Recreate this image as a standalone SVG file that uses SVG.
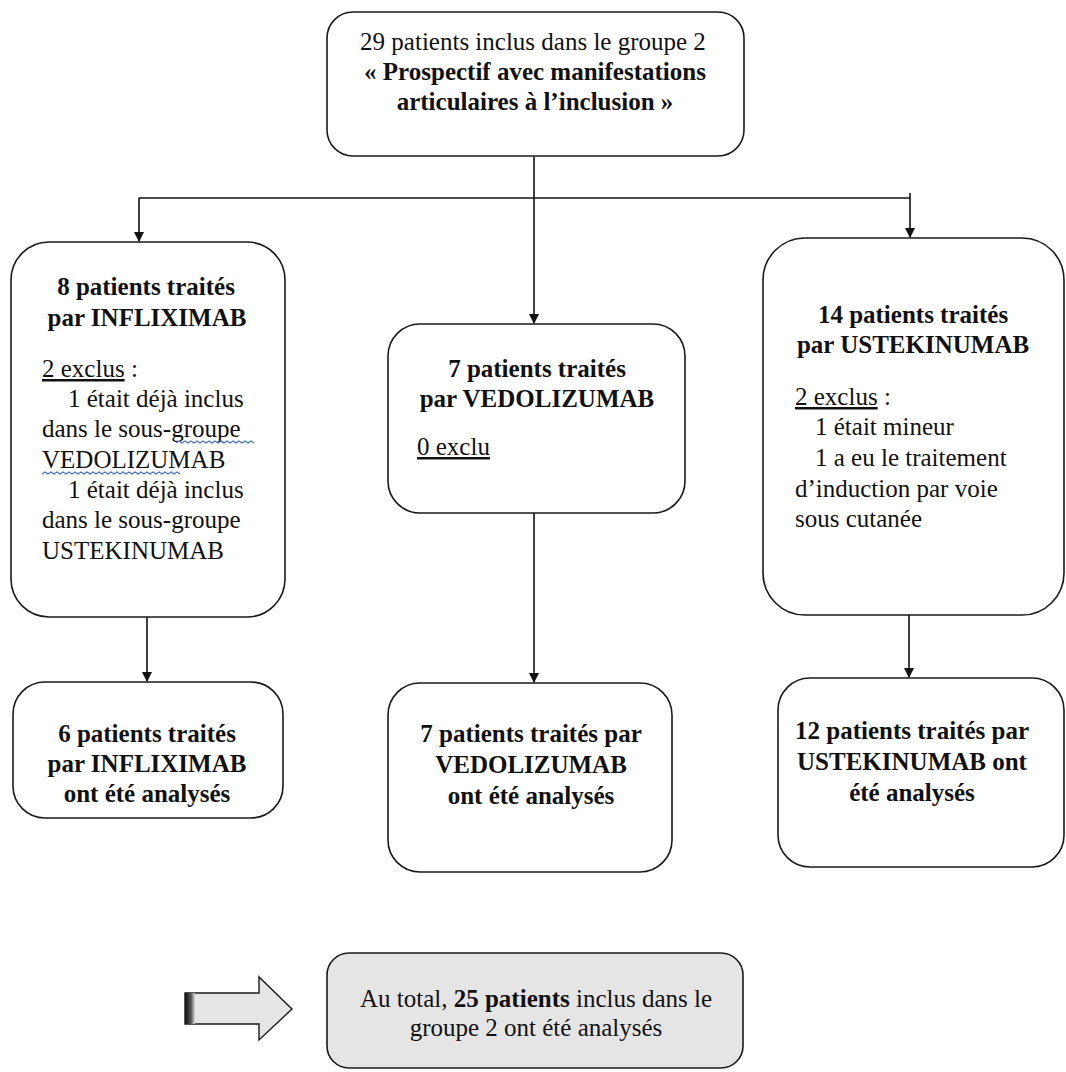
<svg xmlns="http://www.w3.org/2000/svg" width="1066" height="1072" viewBox="0 0 1066 1072">
<style>
.box{fill:#fff;stroke:#1a1a1a;stroke-width:1.6}
.gbox{fill:#e6e5e6;stroke:#1a1a1a;stroke-width:1.6}
.t{font-size:25px;fill:#111}
.c{text-anchor:middle}
.b{font-weight:bold}
.u{text-decoration:underline}
.con{fill:none;stroke:#111;stroke-width:1.6}
.sq{fill:none;stroke:#4a72c8;stroke-width:1.2}
</style>
<defs>
<marker id="ah" markerWidth="10" markerHeight="10" refX="9" refY="5" orient="auto" markerUnits="userSpaceOnUse">
<path d="M0,0 L10,5 L0,10 z" fill="#111"/>
</marker>
<linearGradient id="dk" x1="0" y1="0" x2="1" y2="0">
<stop offset="0" stop-color="#111"/>
<stop offset="0.6" stop-color="#555"/>
<stop offset="1" stop-color="#d8d8d8"/>
</linearGradient>
</defs>

<g id="connectors">
<line class="con" x1="534" y1="157" x2="534" y2="323" marker-end="url(#ah)"/>
<line class="con" x1="139" y1="198" x2="910" y2="198"/>
<line class="con" x1="910" y1="193" x2="910" y2="198"/>
<line class="con" x1="139" y1="198" x2="139" y2="241" marker-end="url(#ah)"/>
<line class="con" x1="910" y1="198" x2="910" y2="237" marker-end="url(#ah)"/>
<line class="con" x1="147" y1="617" x2="147" y2="681" marker-end="url(#ah)"/>
<line class="con" x1="534" y1="513" x2="534" y2="682" marker-end="url(#ah)"/>
<line class="con" x1="909" y1="615" x2="909" y2="677" marker-end="url(#ah)"/>
</g>

<g font-family="'Liberation Serif', Tinos, 'Times New Roman', 'DejaVu Serif', serif">
<g id="n_top">
<rect class="box" x="327" y="12" width="417" height="144" rx="26"/>
<text class="t c" x="533" y="50">29 patients inclus dans le groupe 2</text>
<text class="t c b" x="535" y="80">« Prospectif avec manifestations</text>
<text class="t c b" x="535" y="110">articulaires à l’inclusion »</text>
</g>

<g id="n_inflix">
<rect class="box" x="11" y="242" width="274" height="375" rx="38"/>
<text class="t c b" x="146" y="295">8 patients traités</text>
<text class="t c b" x="147" y="326">par INFLIXIMAB</text>
<text class="t" x="42" y="377"><tspan class="u">2 exclus</tspan> :</text>
<text class="t" x="68" y="407">1 était déjà inclus</text>
<text class="t" x="42" y="437">dans le sous-groupe</text>
<text class="t" x="42" y="468">VEDOLIZUMAB</text>
<text class="t" x="68" y="498">1 était déjà inclus</text>
<text class="t" x="42" y="528">dans le sous-groupe</text>
<text class="t" x="42" y="559">USTEKINUMAB</text>
<path class="sq" d="M176,443 l3,-2 l3,2 l3,-2 l3,2 l3,-2 l3,2 l3,-2 l3,2 l3,-2 l3,2 l3,-2 l3,2 l3,-2 l3,2 l3,-2 l3,2 l3,-2 l3,2 l3,-2 l3,2 l3,-2 l3,2 l3,-2 l3,2 l3,-2 l3,2"/>
<path class="sq" d="M42,474 l3,-2 l3,2 l3,-2 l3,2 l3,-2 l3,2 l3,-2 l3,2 l3,-2 l3,2 l3,-2 l3,2 l3,-2 l3,2 l3,-2 l3,2 l3,-2 l3,2 l3,-2 l3,2 l3,-2 l3,2 l3,-2 l3,2 l3,-2 l3,2 l3,-2 l3,2 l3,-2 l3,2 l3,-2 l3,2 l3,-2 l3,2 l3,-2 l3,2 l3,-2 l3,2 l3,-2 l3,2 l3,-2 l3,2 l3,-2 l3,2 l3,-2 l3,2"/>
</g>

<g id="n_vedo">
<rect class="box" x="388" y="324" width="297" height="189" rx="32"/>
<text class="t c b" x="537" y="377">7 patients traités</text>
<text class="t c b" x="537" y="407">par VEDOLIZUMAB</text>
<text class="t u" x="417" y="455">0 exclu</text>
</g>

<g id="n_uste">
<rect class="box" x="763" y="238" width="301" height="377" rx="42"/>
<text class="t c b" x="913" y="323">14 patients traités</text>
<text class="t c b" x="913" y="353">par USTEKINUMAB</text>
<text class="t" x="795" y="405"><tspan class="u">2 exclus</tspan> :</text>
<text class="t" x="815" y="435">1 était mineur</text>
<text class="t" x="815" y="466">1 a eu le traitement</text>
<text class="t" x="795" y="497">d’induction par voie</text>
<text class="t" x="795" y="527">sous cutanée</text>
</g>

<g id="n_inflix_an">
<rect class="box" x="13" y="682" width="270" height="136" rx="32"/>
<text class="t c b" x="147" y="742">6 patients traités</text>
<text class="t c b" x="147" y="772">par INFLIXIMAB</text>
<text class="t c b" x="147" y="802">ont été analysés</text>
</g>

<g id="n_vedo_an">
<rect class="box" x="388" y="683" width="284" height="189" rx="32"/>
<text class="t c b" x="531" y="742">7 patients traités par</text>
<text class="t c b" x="531" y="773">VEDOLIZUMAB</text>
<text class="t c b" x="531" y="804">ont été analysés</text>
</g>

<g id="n_uste_an">
<rect class="box" x="778" y="678" width="286" height="189" rx="32"/>
<text class="t c b" x="912" y="739">12 patients traités par</text>
<text class="t c b" x="912" y="770">USTEKINUMAB ont</text>
<text class="t c b" x="912" y="801">été analysés</text>
</g>

<g id="n_total">
<rect class="gbox" x="327" y="953" width="416" height="115" rx="22"/>
<text class="t c" x="536" y="1007">Au total, <tspan class="b">25 patients</tspan> inclus dans le</text>
<text class="t c" x="536" y="1036">groupe 2 ont été analysés</text>
</g>
</g>

<g id="n_arrow">
<path d="M185,993 L259,993 L259,977 L292,1009 L259,1040 L259,1024 L185,1024 Z" fill="#e6e5e6" stroke="#1a1a1a" stroke-width="1.4"/>
<rect x="185" y="993" width="10" height="31" fill="url(#dk)"/>
</g>
</svg>
